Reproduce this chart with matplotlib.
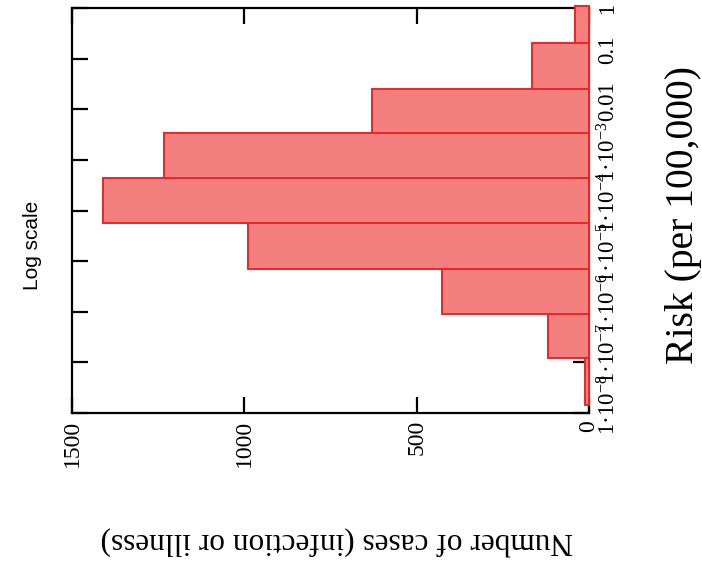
import matplotlib
matplotlib.use("Agg")
import matplotlib.pyplot as plt
from matplotlib.transforms import ScaledTranslation
import numpy as np

# ---- data ----
bin_edges_log10 = [-7.84, -6.91, -6.04, -5.15, -4.25, -3.36, -2.47, -1.60, -0.70, 0.03]
case_counts = [13, 120, 427, 990, 1410, 1232, 630, 164, 40]
risk_tick_pos = [-8, -7, -6, -5, -4, -3, -2, -1, 0]
risk_tick_labels = [r"1·10$^{\mathregular{-8}}$", r"1·10$^{\mathregular{-7}}$",
                    r"1·10$^{\mathregular{-6}}$", r"1·10$^{\mathregular{-5}}$",
                    r"1·10$^{\mathregular{-4}}$", r"1·10$^{\mathregular{-3}}$",
                    "0.01", "0.1", "1"]
count_ticks = [0, 500, 1000, 1500]
count_tick_labels = ["0", "500", "1000", "1500"]

plt.rcParams['font.family'] = ['Liberation Serif', 'DejaVu Serif']
plt.rcParams['mathtext.fontset'] = 'custom'
plt.rcParams['mathtext.rm'] = 'Liberation Serif'
plt.rcParams['mathtext.it'] = 'Liberation Serif:italic'

W, H = 702, 571
fig = plt.figure(figsize=(W / 100, H / 100), dpi=100)
left, right, top, bottom = 72, 589, 8, 413
ax = fig.add_axes([left / W, 1 - bottom / H, (right - left) / W, (bottom - top) / H])

edges = np.array(bin_edges_log10)
ax.barh(edges[:-1], case_counts, height=np.diff(edges), align='edge', left=0,
        color='#F37F7F', edgecolor='#EE2424', linewidth=1.4, clip_on=False, zorder=3)

ax.set_xlim(1500, 0)
ax.set_ylim(-8, 0)

for s in ax.spines.values():
    s.set_linewidth(1.6)
    s.set_color('black')

ax.set_xticks(count_ticks)
ax.set_xticklabels(count_tick_labels)
ax.set_yticks(risk_tick_pos)
ax.set_yticklabels(risk_tick_labels)

tick_len = 16 * 72 / 100
ax.tick_params(axis='x', direction='in', length=tick_len, width=1.6, top=True, bottom=True,
               labelrotation=90, labelsize=17, pad=5)
ax.tick_params(axis='y', direction='in', length=tick_len, width=1.6, left=True, right=True,
               labelleft=False, labelright=True, labelrotation=90, labelsize=16.5, pad=6)

off = ScaledTranslation(0, 6 / 72, fig.dpi_scale_trans)
labs = ax.get_yticklabels()
for lab in labs:
    lab.set_verticalalignment('center')
for lab in labs[:-1]:
    lab.set_transform(lab.get_transform() + off)

fig.text(33 / W, 1 - 245 / H, "Log scale", rotation=90, ha='center', va='center',
         fontsize=15, family=['Liberation Sans', 'DejaVu Sans'])
fig.text(683 / W, 1 - 215 / H, "Risk (per 100,000)", rotation=90, ha='center', va='center',
         fontsize=28.5)
fig.text(337 / W, 1 - 540 / H, "Number of cases (infection or illness)", rotation=180,
         ha='center', va='center', fontsize=22.5)

fig.savefig("out.png", dpi=100)
